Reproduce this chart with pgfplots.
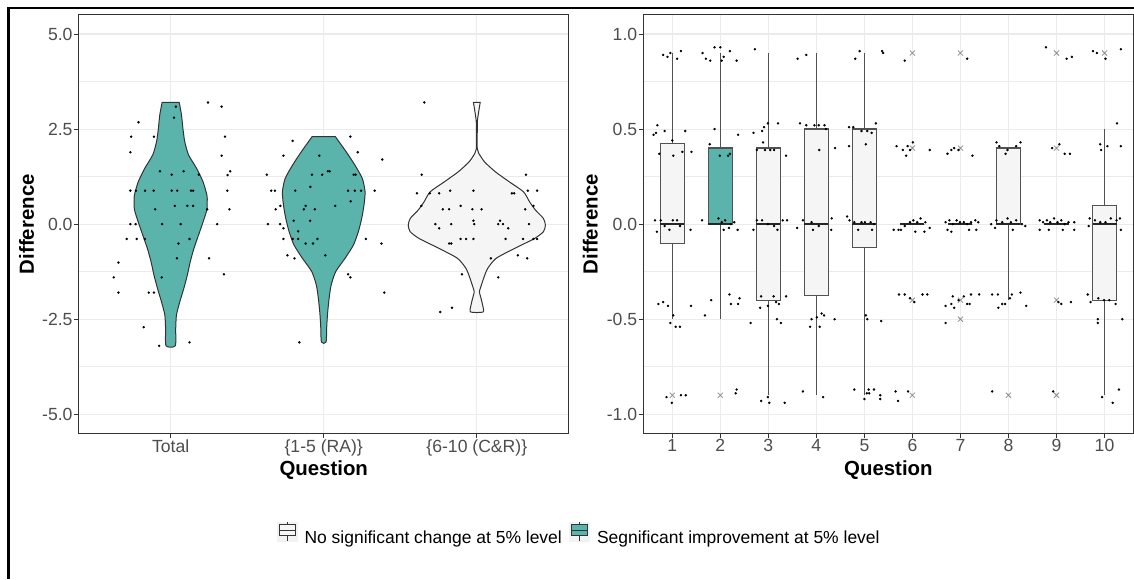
\documentclass[border=0pt]{standalone}
\usepackage{fontspec}
\setmainfont{Liberation Sans}
\usepackage{pgfplots}
\pgfplotsset{compat=1.18}
\usepgfplotslibrary{statistics}

\definecolor{sigteal}{HTML}{5AB4AC}
\definecolor{boxlight}{HTML}{F5F5F5}
\definecolor{lineg}{HTML}{333333}
\definecolor{gridg}{HTML}{EBEBEB}
\definecolor{tickg}{HTML}{4D4D4D}
\definecolor{keybg}{HTML}{F2F2F2}
\definecolor{outg}{HTML}{8C8C8C}

\newcommand\ticksize{\fontsize{13.2}{15}\selectfont}
\newcommand\titlesize{\bfseries\fontsize{15.3}{18}\selectfont}

\pgfplotsset{
  panel/.style={
    scale only axis, width=367.4pt, height=313.7pt, anchor=south west,
    axis line style={draw=lineg, line width=0.75pt},
    tick align=outside, tick pos=left,
    major tick length=3.5pt, minor tick length=0pt,
    tick style={draw=lineg, line width=0.75pt},
    xmajorgrids, ymajorgrids, yminorgrids,
    major grid style={draw=gridg, line width=0.8pt},
    minor grid style={draw=gridg, line width=0.4pt},
    tick label style={font=\ticksize, text=tickg, inner sep=1pt},
    label style={font=\titlesize},
    xlabel style={at={(axis description cs:0.5,-0.1004)}, anchor=base},
  },
  jit/.style={only marks, mark=*, mark size=0.7pt, black, forget plot},
  boxkey/.style={legend image code/.code={
    \fill[keybg] (0pt,-2.4pt) rectangle (15pt,11.85pt);
    \draw[lineg, line width=0.6pt] (7.5pt,-2.4pt) -- (7.5pt,1.35pt) (7.5pt,9.6pt) -- (7.5pt,11.85pt);
    \draw[lineg, line width=0.6pt, fill=#1] (1.6pt,1.35pt) rectangle (13.4pt,9.6pt);
    \draw[lineg, line width=1.1pt] (1.6pt,5.5pt) -- (13.4pt,5.5pt);
  }},
}

\begin{document}
\begin{tikzpicture}
\path[use as bounding box] (0,0) rectangle (850.5pt,434.25pt);
\draw[black, line width=1.9pt] (6.5pt,0) -- (6.5pt,428.4pt) -- (850.5pt,428.4pt);

% left panel: violins
\begin{axis}[panel, at={(59.1pt,109.3pt)},
  xmin=0.4, xmax=3.6, ymin=-5.5, ymax=5.5,
  xtick={1,2,3}, xticklabels={Total,\{1-5 (RA)\},\{6-10 (C\&R)\}},
  ytick={-5,-2.5,0,2.5,5}, yticklabels={-5.0,-2.5,0.0,2.5,5.0},
  minor ytick={-3.75,-1.25,1.25,3.75},
  xlabel={Question}, ylabel={Difference},
  ylabel style={at={(axis description cs:-0.0915,0.5)}, anchor=base},
  legend columns=2,
  legend style={at={(axis description cs:0.4037,-0.2390)}, anchor=west,
    draw=none, fill=none, inner sep=0pt, font=\fontsize{13.1}{15}\selectfont,
    nodes={inner sep=0pt},
    /tikz/every odd column/.append style={column sep=5.4pt},
    /tikz/every even column/.append style={column sep=5.6pt}},
]
\addlegendimage{boxkey=boxlight}
\addlegendentry{No significant change at 5\% level}
\addlegendimage{boxkey=sigteal}
\addlegendentry{Segnificant improvement at 5\% level}

\addplot[fill=sigteal, draw=lineg, line width=0.75pt, smooth, tension=0.4, forget plot] coordinates {
(1.056,3.2)(1.071,2.87)(1.080,2.52)(1.092,2.17)(1.117,1.82)(1.169,1.47)(1.212,1.11)(1.237,0.76)(1.239,0.59)(1.236,0.37)(1.212,0.06)(1.182,-0.29)(1.152,-0.64)(1.128,-0.99)(1.109,-1.34)(1.086,-1.69)(1.060,-2.04)(1.038,-2.39)(1.033,-2.75)(1.030,-3.2)
(0.970,-3.2)(0.967,-2.75)(0.962,-2.39)(0.940,-2.04)(0.914,-1.69)(0.891,-1.34)(0.872,-0.99)(0.848,-0.64)(0.818,-0.29)(0.788,0.06)(0.764,0.37)(0.761,0.59)(0.763,0.76)(0.788,1.11)(0.831,1.47)(0.883,1.82)(0.908,2.17)(0.920,2.52)(0.929,2.87)(0.944,3.2)
} -- cycle;
\addplot[fill=sigteal, draw=lineg, line width=0.75pt, smooth, tension=0.4, forget plot] coordinates {
(2.076,2.3)(2.147,1.90)(2.204,1.55)(2.252,1.20)(2.270,0.85)(2.263,0.50)(2.248,0.15)(2.226,-0.20)(2.194,-0.55)(2.139,-0.90)(2.078,-1.25)(2.048,-1.61)(2.035,-1.96)(2.026,-2.31)(2.020,-2.66)(2.015,-3.1)
(1.985,-3.1)(1.980,-2.66)(1.974,-2.31)(1.965,-1.96)(1.952,-1.61)(1.922,-1.25)(1.861,-0.90)(1.806,-0.55)(1.774,-0.20)(1.752,0.15)(1.737,0.50)(1.730,0.85)(1.748,1.20)(1.796,1.55)(1.853,1.90)(1.924,2.3)
} -- cycle;
\addplot[fill=boxlight, draw=lineg, line width=0.75pt, smooth, tension=0.4, forget plot] coordinates {
(3.022,3.2)(3.014,3.0)(3.0045,2.74)(3.003,2.5)(3.003,1.98)(3.013,1.86)(3.050,1.64)(3.120,1.38)(3.213,1.11)(3.305,0.85)(3.344,0.59)(3.383,0.37)(3.435,0.15)(3.448,-0.03)(3.435,-0.20)(3.376,-0.38)(3.246,-0.64)(3.126,-0.90)(3.070,-1.17)(3.044,-1.43)(3.026,-1.65)(3.017,-1.78)(3.028,-1.96)(3.038,-2.13)(3.041,-2.31)
(2.959,-2.31)(2.962,-2.13)(2.972,-1.96)(2.983,-1.78)(2.974,-1.65)(2.956,-1.43)(2.930,-1.17)(2.874,-0.90)(2.754,-0.64)(2.624,-0.38)(2.565,-0.20)(2.552,-0.03)(2.565,0.15)(2.617,0.37)(2.656,0.59)(2.695,0.85)(2.787,1.11)(2.880,1.38)(2.950,1.64)(2.987,1.86)(2.997,1.98)(2.997,2.5)(2.9955,2.74)(2.986,3.0)(2.978,3.2)
} -- cycle;

% jittered observations
\addplot[jit] coordinates {
(1.244,3.20)(1.333,3.09)(1.034,3.09)(0.790,2.68)(1.022,2.80)(0.742,2.30)(0.891,2.30)(1.355,2.30)(0.737,1.89)(1.333,1.80)(1.389,1.39)(1.372,1.29)(0.930,1.39)(1.007,1.30)(1.085,1.39)(1.184,1.30)(0.737,0.88)(0.773,0.88)(0.833,0.88)(0.889,0.88)(1.007,0.88)(1.043,0.88)(1.133,0.88)(1.147,0.88)(1.370,0.88)(0.899,0.39)(1.027,0.48)(1.109,0.48)(1.147,0.48)(1.239,0.39)(1.384,0.39)(0.737,0.0)(0.771,0.0)(0.944,0.0)(1.065,0.0)(1.304,0.0)(0.713,-0.39)(0.778,-0.39)(0.831,-0.39)(1.123,-0.39)(1.051,-0.51)(1.041,-0.90)(1.251,-0.90)(0.659,-1.01)(0.628,-1.40)(0.942,-1.40)(1.348,-1.32)(0.659,-1.80)(0.857,-1.80)(0.891,-1.80)(0.824,-2.71)(0.925,-3.20)(1.123,-3.11)
};
\addplot[jit] coordinates {
(1.797,2.19)(2.174,2.30)(2.222,1.89)(2.382,1.70)(1.737,1.80)(1.971,1.80)(1.628,1.30)(1.923,1.30)(1.990,1.30)(2.027,1.39)(2.039,1.39)(2.196,1.30)(2.208,1.30)(1.657,0.88)(1.681,0.88)(1.814,0.88)(1.913,0.98)(2.159,0.88)(2.203,0.88)(2.244,0.88)(2.333,0.88)(2.176,0.60)(1.686,0.39)(1.717,0.48)(1.870,0.39)(1.882,0.48)(1.942,0.39)(2.075,0.48)(1.635,0)(1.715,0)(1.737,-0.11)(1.804,0.09)(1.911,0.09)(1.833,-0.19)(1.737,-0.39)(1.797,-0.39)(1.833,-0.39)(1.882,-0.51)(1.930,-0.51)(1.959,-0.39)(2.275,-0.39)(2.377,-0.51)(1.763,-0.82)(1.809,-0.90)(2.010,-0.82)(2.159,-1.32)(2.174,-1.40)(2.396,-1.80)(1.841,-3.11)
};
\addplot[jit] coordinates {
(2.657,3.20)(2.640,1.30)(3.321,1.30)(2.609,0.81)(2.693,0.81)(2.754,0.81)(2.826,0.88)(2.978,0.88)(3.229,0.81)(3.244,0.81)(3.333,0.88)(3.394,0.88)(2.638,0.48)(2.778,0.39)(2.819,0.39)(2.894,0.48)(2.971,0.39)(3.031,0.39)(3.316,0.39)(3.370,0.48)(2.729,0)(2.754,-0.11)(2.833,0)(2.978,0.09)(2.983,0)(3.152,0.09)(3.140,0)(3.171,0)(3.205,-0.11)(3.341,0)(2.819,-0.51)(2.833,-0.51)(2.894,-0.39)(2.930,-0.39)(2.978,-0.39)(3.188,-0.39)(3.302,-0.39)(3.370,-0.39)(3.394,-0.39)(3.092,-0.90)(3.268,-0.82)(3.329,-0.90)(2.903,-1.32)(3.140,-1.40)(2.761,-2.31)(2.838,-2.20)
};
\end{axis}

% right panel: boxplots per question
\begin{axis}[panel, at={(482.6pt,109.3pt)},
  xmin=0.4, xmax=10.6, ymin=-1.1, ymax=1.1,
  xtick={1,2,3,4,5,6,7,8,9,10}, xticklabels={1,2,3,4,5,6,7,8,9,10},
  ytick={-1,-0.5,0,0.5,1}, yticklabels={-1.0,-0.5,0.0,0.5,1.0},
  minor ytick={-0.75,-0.25,0.25,0.75},
  xlabel={Question}, ylabel={Difference},
  ylabel style={at={(axis description cs:-0.0936,0.5)}, anchor=base},
  boxplot/draw direction=y,
  boxplot/box extend=0.5, boxplot/whisker extend=0,
  boxplot/every median/.style={line width=1.6pt, draw=black!85},
  bx/.style={draw=lineg!85, line width=0.9pt, forget plot, boxplot/draw direction=y},
]
\addplot[bx, fill=boxlight, boxplot prepared={draw position=1, lower whisker=-0.5, lower quartile=-0.1, median=0, upper quartile=0.425, upper whisker=0.9}] coordinates {};
\addplot[bx, fill=sigteal, boxplot prepared={draw position=2, lower whisker=-0.5, lower quartile=0, median=0, upper quartile=0.4, upper whisker=0.9}] coordinates {};
\addplot[bx, fill=boxlight, boxplot prepared={draw position=3, lower whisker=-0.9, lower quartile=-0.4, median=0, upper quartile=0.4, upper whisker=0.9}] coordinates {};
\addplot[bx, fill=boxlight, boxplot prepared={draw position=4, lower whisker=-0.9, lower quartile=-0.375, median=0, upper quartile=0.5, upper whisker=0.9}] coordinates {};
\addplot[bx, fill=boxlight, boxplot prepared={draw position=5, lower whisker=-0.9, lower quartile=-0.125, median=0, upper quartile=0.5, upper whisker=0.9}] coordinates {};
\addplot[bx, fill=boxlight, boxplot prepared={draw position=6, lower whisker=0, lower quartile=0, median=0, upper quartile=0, upper whisker=0}] coordinates {};
\addplot[bx, fill=boxlight, boxplot prepared={draw position=7, lower whisker=0, lower quartile=0, median=0, upper quartile=0, upper whisker=0}] coordinates {};
\addplot[bx, fill=boxlight, boxplot prepared={draw position=8, lower whisker=-0.4, lower quartile=0, median=0, upper quartile=0.4, upper whisker=0.4}] coordinates {};
\addplot[bx, fill=boxlight, boxplot prepared={draw position=9, lower whisker=0, lower quartile=0, median=0, upper quartile=0, upper whisker=0}] coordinates {};
\addplot[bx, fill=boxlight, boxplot prepared={draw position=10, lower whisker=-0.9, lower quartile=-0.4, median=0, upper quartile=0.1, upper whisker=0.5}] coordinates {};

% outliers
\addplot[only marks, mark=x, mark size=2.7pt, outg, mark options={line width=0.55pt}, forget plot] coordinates {
(1,-0.9)(2,-0.9)(6,0.9)(6,0.4)(6,-0.4)(6,-0.9)(7,0.9)(7,0.4)(7,-0.4)(7,-0.5)(8,-0.9)(9,0.9)(9,0.4)(9,-0.4)(9,-0.9)(10,0.9)
};

% jittered observations
\addplot[jit] coordinates {
(0.81,0.89)(0.90,0.88)(0.96,0.90)(1.10,0.87)(1.18,0.91)(0.69,0.52)(0.61,0.47)(0.66,0.48)(0.84,0.49)(0.73,0.37)(1.00,0.44)(1.02,0.36)(1.27,0.49)(1.21,0.38)(1.40,0.38)(0.64,0.02)(0.76,0.02)(0.84,-0.01)(1.01,0.02)(1.10,0.02)(1.16,-0.01)(0.68,-0.04)(0.94,-0.03)(1.38,-0.03)(0.71,-0.42)(0.81,-0.41)(0.91,-0.43)(1.02,-0.48)(0.96,-0.52)(1.07,-0.54)(1.16,-0.54)(1.39,-0.43)(0.88,-0.91)(0.99,-0.94)(1.18,-0.90)(1.28,-0.90)
(1.63,0.90)(1.70,0.87)(1.79,0.86)(1.88,0.93)(2.00,0.93)(2.03,0.86)(2.07,0.88)(2.20,0.91)(2.34,0.86)(1.88,0.50)(1.78,0.42)(2.37,0.47)(1.99,0.36)(2.16,0.36)(2.20,0.37)(1.62,0.02)(1.96,0.03)(2.03,0.01)(2.10,0.02)(2.22,0)(2.29,0.01)(2.07,-0.03)(2.18,-0.02)(2.36,-0.03)(1.68,-0.48)(1.81,-0.40)(2.19,-0.37)(2.22,-0.42)(2.37,-0.42)(2.40,-0.39)(2.34,-0.87)(2.32,-0.89)
(2.72,0.92)(2.69,0.48)(2.87,0.49)(2.91,0.51)(2.99,0.53)(3.20,0.53)(2.76,0.39)(2.89,0.43)(2.93,0.39)(3.04,0.39)(3.12,0.39)(3.37,0.36)(2.76,0.02)(2.87,0.02)(2.99,0)(3.12,-0.01)(3.30,0.02)(3.39,0.02)(2.69,-0.03)(3.19,-0.03)(2.63,-0.52)(2.83,-0.44)(2.85,-0.38)(2.99,-0.43)(3.11,-0.38)(3.16,-0.41)(3.22,-0.42)(3.18,-0.50)(3.26,-0.52)(3.37,-0.38)(2.85,-0.93)(2.99,-0.91)(3.02,-0.94)(3.34,-0.94)
(3.61,0.87)(3.79,0.89)(3.66,0.53)(3.79,0.52)(3.96,0.52)(4.05,0.52)(4.17,0.52)(4.20,0.50)(4.06,0.39)(4.39,0.40)(3.72,0.02)(3.90,0.01)(4.05,-0.01)(4.32,0.03)(3.60,-0.02)(3.93,-0.03)(4.31,-0.03)(3.72,-0.88)(3.87,-0.54)(3.90,-0.50)(4.01,-0.49)(4.07,-0.54)(4.11,-0.47)(4.16,-0.48)(4.38,-0.50)(4.14,-0.91)
(4.81,0.87)(4.90,0.91)(5.37,0.91)(5.39,0.90)(4.68,0.51)(4.77,0.51)(4.94,0.49)(5.06,0.49)(5.15,0.48)(5.24,0.53)(4.68,0.41)(5.03,0.42)(4.64,0.04)(4.69,0.02)(4.79,0.01)(4.94,0.01)(5.01,0.01)(5.13,0.01)(5.20,0)(4.87,-0.03)(5.16,-0.03)(4.79,-0.87)(5.00,-0.92)(5.05,-0.89)(5.09,-0.87)(5.10,-0.89)(5.20,-0.87)(5.33,-0.90)(5.33,-0.92)(5.03,-0.48)(5.06,-0.50)(5.35,-0.51)
(5.84,0.86)(5.67,0.41)(5.80,0.39)(5.90,0.41)(5.95,0.39)(6.01,0.43)(5.87,0.36)(6.36,0.39)(5.61,-0.03)(5.71,-0.03)(5.84,-0.01)(5.95,0.01)(6.02,0.02)(6.10,0.01)(6.17,0.03)(6.27,0.01)(6.36,-0.02)(5.76,-0.03)(6.06,-0.04)(6.25,-0.04)(5.72,-0.37)(5.84,-0.37)(5.95,-0.39)(6.04,-0.41)(6.21,-0.37)(6.31,-0.37)(5.65,-0.88)(5.70,-0.93)(5.91,-0.88)
(7.14,0.87)(6.73,0.37)(6.81,0.39)(6.87,0.40)(6.96,0.39)(7.25,0.36)(6.69,0.01)(6.77,0.02)(6.84,0)(6.92,0.02)(6.99,0.01)(7.07,0.01)(7.14,0)(7.22,0.01)(7.31,0.02)(7.37,0.01)(6.73,-0.03)(6.81,-0.04)(7.18,-0.03)(7.33,-0.03)(6.69,-0.43)(6.81,-0.42)(6.87,-0.44)(6.84,-0.38)(6.96,-0.40)(7.07,-0.38)(7.14,-0.42)(7.19,-0.42)(7.22,-0.37)(7.39,-0.37)(6.69,-0.52)
(7.75,0.43)(7.81,0.41)(7.94,0.37)(7.98,0.39)(8.16,0.41)(8.25,0.43)(7.64,0)(7.75,0.02)(7.87,0.01)(7.98,0.03)(8.05,0.01)(8.16,0.02)(8.28,0)(8.35,-0.01)(7.72,-0.02)(8.09,-0.03)(7.66,-0.37)(7.78,-0.37)(7.79,-0.44)(7.87,-0.42)(7.93,-0.42)(8.03,-0.39)(8.07,-0.37)(8.25,-0.36)(8.37,-0.43)(7.66,-0.88)
(8.78,0.93)(9.21,0.87)(9.32,0.88)(8.91,0.40)(9.06,0.42)(9.17,0.37)(9.28,0.37)(8.65,0.02)(8.72,0.01)(8.80,0.02)(8.87,0.01)(8.95,0.03)(9.02,0.01)(9.10,0.02)(9.17,0)(9.25,0.01)(9.37,0.01)(8.65,-0.03)(8.84,-0.03)(9.13,-0.03)(9.37,-0.03)(9.04,-0.41)(9.10,-0.42)(9.30,-0.41)(8.93,-0.88)
(9.76,0.91)(9.84,0.90)(10.02,0.87)(10.34,0.92)(10.26,0.53)(9.91,0.42)(9.93,0.39)(10.06,0.41)(10.34,0.41)(9.69,0.03)(9.80,0.02)(9.91,0.01)(10.02,0.01)(10.13,0.03)(10.25,0.02)(10.32,0.03)(9.67,-0.01)(10.34,-0.03)(9.65,-0.37)(9.71,-0.41)(9.87,-0.39)(9.99,-0.40)(10.10,-0.40)(10.23,-0.42)(9.86,-0.50)(9.86,-0.52)(10.37,-0.50)(9.95,-0.91)(10.17,-0.94)(10.30,-0.87)
};
\end{axis}
\end{tikzpicture}
\end{document}
